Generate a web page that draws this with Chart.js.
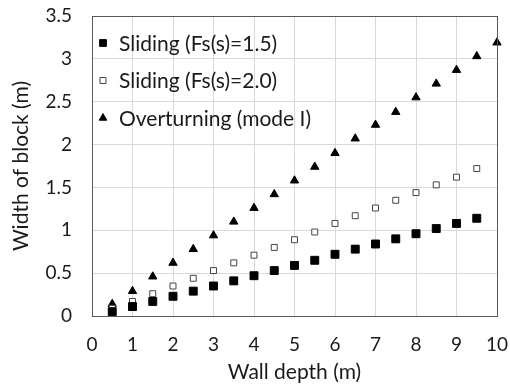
<!DOCTYPE html>
<html>
<head>
<meta charset="utf-8">
<script src="https://cdn.jsdelivr.net/npm/chart.js@4.4.0/dist/chart.umd.min.js"></script>
<style>
  html, body { margin: 0; padding: 0; background: #fff; }
  #wrap { width: 510px; height: 390px; }
</style>
</head>
<body>
<div id="wrap"><canvas id="blockChart"></canvas></div>
<script>
// wall depth (m)
const depth = [0.5, 1, 1.5, 2, 2.5, 3, 3.5, 4, 4.5, 5, 5.5, 6, 6.5, 7, 7.5, 8, 8.5, 9, 9.5, 10];
// width of block (m)
const sliding15 = [0.05, 0.11, 0.17, 0.23, 0.29, 0.35, 0.41, 0.47, 0.53, 0.59, 0.65, 0.72, 0.78, 0.84, 0.90, 0.96, 1.02, 1.08, 1.14];
const sliding20 = [0.09, 0.17, 0.26, 0.35, 0.44, 0.53, 0.62, 0.71, 0.80, 0.89, 0.98, 1.08, 1.17, 1.26, 1.35, 1.44, 1.53, 1.62, 1.72];
const overturning = [0.14, 0.29, 0.46, 0.62, 0.78, 0.94, 1.10, 1.26, 1.42, 1.58, 1.74, 1.90, 2.07, 2.23, 2.38, 2.55, 2.71, 2.87, 3.03, 3.19];

const seriesNames = ['Sliding (Fs(s)=1.5)', 'Sliding (Fs(s)=2.0)', 'Overturning (mode I)'];
const xTitle = 'Wall depth (m)';
const yTitle = 'Width of block (m)';

const FONT = 'Lato, "Open Sans", sans-serif';
const TEXT = '#1a1a1a';

function toPoints(values) {
  return values.map(function(v, i) { return { x: depth[i], y: v }; });
}

// legend sits inside the plot, top-left
const insideLegend = {
  id: 'insideLegend',
  afterDatasetsDraw(chart) {
    const ctx = chart.ctx;
    const area = chart.chartArea;
    ctx.save();
    ctx.font = '21px ' + FONT;
    ctx.textBaseline = 'middle';
    chart.data.datasets.forEach(function(ds, i) {
      const y = area.top + 27 + i * 37.5;
      const x = area.left + 11;
      ctx.fillStyle = ds.pointBackgroundColor;
      ctx.strokeStyle = ds.pointBorderColor;
      ctx.lineWidth = ds.pointBorderWidth;
      Chart.helpers.drawPoint(ctx, {
        pointStyle: ds.pointStyle,
        radius: ds.legendRadius,
        borderWidth: ds.pointBorderWidth,
        rotation: 0
      }, x, y);
      ctx.fillStyle = TEXT;
      ctx.fillText(ds.label, x + 16, y + 1);
    });
    ctx.restore();
  }
};

const plotBorder = {
  id: 'plotBorder',
  afterDraw(chart) {
    const a = chart.chartArea;
    const ctx = chart.ctx;
    ctx.save();
    ctx.strokeStyle = '#595959';
    ctx.lineWidth = 1;
    ctx.strokeRect(Math.round(a.left) + 0.5, Math.round(a.top) + 0.5,
      Math.round(a.right - a.left), Math.round(a.bottom - a.top));
    ctx.restore();
  }
};

const data = {
  datasets: [{
    label: seriesNames[0],
    data: toPoints(sliding15),
    pointStyle: 'rect',
    pointRadius: 5.6,
    legendRadius: 4.8,
    pointBackgroundColor: '#000',
    pointBorderColor: '#000',
    pointBorderWidth: 1
  }, {
    label: seriesNames[1],
    data: toPoints(sliding20),
    pointStyle: 'rect',
    pointRadius: 4.2,
    legendRadius: 4.2,
    pointBackgroundColor: '#fff',
    pointBorderColor: '#444',
    pointBorderWidth: 1
  }, {
    label: seriesNames[2],
    data: toPoints(overturning),
    pointStyle: 'triangle',
    pointRadius: 4.8,
    legendRadius: 4.4,
    pointBackgroundColor: '#000',
    pointBorderColor: '#000',
    pointBorderWidth: 1
  }]
};

const config = {
  type: 'scatter',
  data: data,
  plugins: [insideLegend, plotBorder],
  options: {
    responsive: true,
    maintainAspectRatio: false,
    animation: false,
    clip: false,
    layout: { padding: { top: 16, right: 13, left: 0, bottom: 0 } },
    plugins: {
      legend: { display: false },
      tooltip: { enabled: false }
    },
    scales: {
      x: {
        type: 'linear',
        min: 0,
        max: 10,
        ticks: { stepSize: 1, color: TEXT, font: { family: FONT, size: 19 }, padding: 17, maxRotation: 0 },
        grid: { color: '#d9d9d9', drawTicks: false },
        border: { display: false },
        title: { display: true, text: xTitle, color: TEXT, font: { family: FONT, size: 21 }, padding: { top: 0, bottom: 5 } },
        afterFit: function(scale) {
          scale.height = 74;
          scale.paddingLeft = 0;
          scale.paddingRight = 0;
        }
      },
      y: {
        type: 'linear',
        min: 0,
        max: 3.5,
        ticks: {
          stepSize: 0.5, color: TEXT, font: { family: FONT, size: 19 }, padding: 20,
          callback: function(value) { return String(value); }
        },
        grid: { color: '#d9d9d9', drawTicks: false },
        border: { display: false },
        title: { display: true, text: yTitle, color: TEXT, font: { family: FONT, size: 21 }, padding: { top: 9, bottom: 0 } },
        afterFit: function(scale) {
          scale.width = 92;
          scale.paddingTop = 0;
          scale.paddingBottom = 0;
        }
      }
    }
  }
};

const blockChart = new Chart(document.getElementById('blockChart'), config);
</script>
</body>
</html>
